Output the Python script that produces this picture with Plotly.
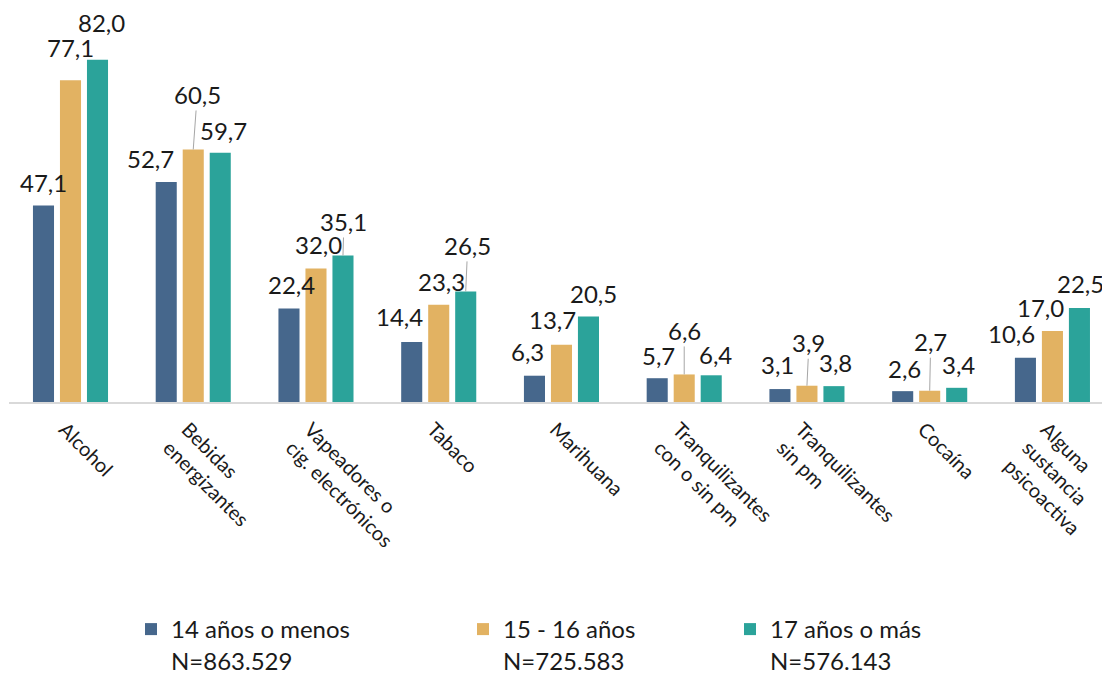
import plotly.graph_objects as go

# ---------------- data ----------------
categories = ["Alcohol", "Bebidas<br>energizantes", "Vapeadores o<br>cig. electrónicos",
              "Tabaco", "Marihuana", "Tranquilizantes<br>con o sin pm",
              "Tranquilizantes<br>sin pm", "Cocaína", "Alguna<br>sustancia<br>psicoactiva"]
series_names = ["14 años o menos<br>N=863.529", "15 - 16 años<br>N=725.583", "17 años o más<br>N=576.143"]
v14 = [47.1, 52.7, 22.4, 14.4, 6.3, 5.7, 3.1, 2.6, 10.6]
v15 = [77.1, 60.5, 32.0, 23.3, 13.7, 6.6, 3.9, 2.7, 17.0]
v17 = [82.0, 59.7, 35.1, 26.5, 20.5, 6.4, 3.8, 3.4, 22.5]

# ---------------- styles / label placement (pixels) ----------------
colors = ["#46678C", "#E2B262", "#2BA39A"]
off14 = [(0, 23), (-16, 24), (3, 24), (-12, 25), (-7, 24), (1, 23), (-2, 25), (2, 23), (-14, 24)]
off15 = [(0, 33), (4, 55), (3, 24), (3, 23), (-9, 25), (0, 44), (2, 43), (1, 49), (-12, 24)]
off17 = [(4, 37), (3, 22), (1, 34), (2, 46), (5, 23), (4, 21), (2, 24), (2, 23), (1, 25)]
lead14 = [False] * 9
lead15 = [False, True, False, False, False, True, True, True, False]
lead17 = [False, False, True, True, False, False, False, False, False]

FONT = "Lato"
BARGAP = 0.34
BARGROUPGAP = 0.22

series = [v14, v15, v17]
offsets = [off14, off15, off17]
leaders = [lead14, lead15, lead17]
legend_ids = ["legend", "legend2", "legend3"]

fig = go.Figure()
for k in range(3):
    fig.add_trace(go.Bar(
        x=categories, y=series[k], name=series_names[k],
        marker=dict(color=colors[k], line=dict(width=0)),
        legend=legend_ids[k], hoverinfo="skip",
    ))

slot = (1 - BARGAP) / 3
annotations = []
for k in range(3):
    for i, v in enumerate(series[k]):
        dx, dy = offsets[k][i]
        txt = f"{v:.1f}".replace(".", ",")
        xpos = i + (k - 1) * slot
        if leaders[k][i]:
            annotations.append(dict(
                x=xpos, y=v, xref="x", yref="y", text=txt,
                showarrow=True, ax=dx, ay=-dy, arrowhead=0, arrowwidth=1,
                arrowcolor="#A6A6A6", standoff=0, startstandoff=0,
                font=dict(family=FONT, size=24, color="#1A1A1A"),
            ))
        else:
            annotations.append(dict(
                x=xpos, y=v, xref="x", yref="y", text=txt,
                showarrow=False, xshift=dx, yshift=dy,
                xanchor="center", yanchor="middle",
                font=dict(family=FONT, size=24, color="#1A1A1A"),
            ))

# the page body adds an 8px margin, so the figure is sized to fit the window
W, H = 1102, 667
legend_left_px = [123, 455, 722]
legend_top_px = 599


def legend_cfg(px):
    return dict(
        xref="container", yref="container",
        x=px / W, y=1 - legend_top_px / H, xanchor="left", yanchor="top",
        orientation="h", valign="top", bgcolor="rgba(0,0,0,0)",
        font=dict(family=FONT, size=24, color="#1A1A1A"),
        itemclick=False, itemdoubleclick=False,
    )


fig.update_layout(
    width=W, height=H,
    margin=dict(l=1, r=0, t=0, b=273, autoexpand=False),
    paper_bgcolor="white", plot_bgcolor="white",
    barmode="group", bargap=BARGAP, bargroupgap=BARGROUPGAP,
    font=dict(family=FONT, color="#1A1A1A"),
    showlegend=True,
    legend=legend_cfg(legend_left_px[0]),
    legend2=legend_cfg(legend_left_px[1]),
    legend3=legend_cfg(legend_left_px[2]),
    annotations=annotations,
    xaxis=dict(
        type="category", range=[-0.501, 8.469], automargin=False,
        showline=True, linecolor="#D9D9D9", linewidth=2,
        ticks="", showgrid=False, tickangle=45,
        ticklabelshift=-6, ticklabelstandoff=6,
        tickfont=dict(family=FONT, size=20, color="#1A1A1A"),
        fixedrange=True,
    ),
    yaxis=dict(range=[0, 94.4], visible=False, showgrid=False, fixedrange=True,
               automargin=False),
)

fig.write_html("out.html")
